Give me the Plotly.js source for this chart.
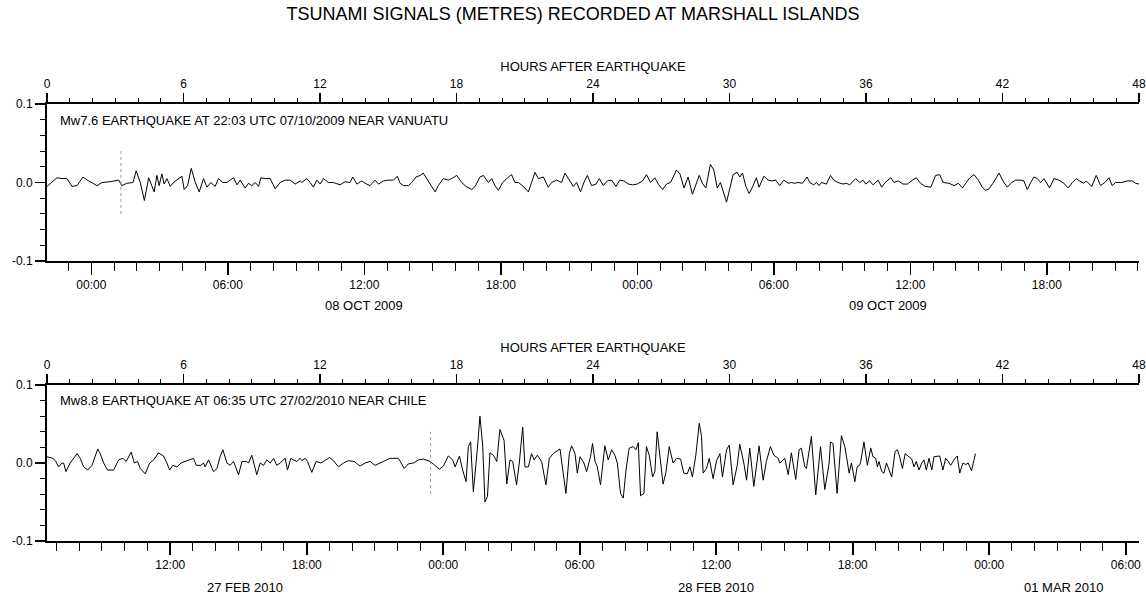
<!DOCTYPE html>
<html>
<head>
<meta charset="utf-8">
<script src="https://cdn.plot.ly/plotly-3.0.1.min.js"></script>
<style>
html,body{margin:0;padding:0;background:#fff;}
#chart{width:1146px;height:597px;}
</style>
</head>
<body>
<div id="chart"></div>
<script>
// ---- Data (hours after earthquake, sea level in metres) ----
const chartTitle = 'TSUNAMI SIGNALS (METRES) RECORDED AT MARSHALL ISLANDS';
const hoursAxisTitle = 'HOURS AFTER EARTHQUAKE';

// Event 1: Vanuatu
const vanuatuLabel = 'Mw7.6 EARTHQUAKE AT 22:03 UTC 07/10/2009 NEAR VANUATU';
const vanuatuStart = '2009-10-07 22:03';
const vanuatuEnd = '2009-10-09 22:03';
const vanuatuFirstTick = '2009-10-08 00:00';
const vanuatuHours = [
  0,0.44,0.66,0.88,1.10,1.32,1.58,1.83,2.20,2.42,2.78,3.15,3.29,3.51,3.78,3.92,4.10,4.28,4.47,4.71,
  4.83,4.93,5.05,5.15,5.27,5.42,5.56,5.71,5.93,6.03,6.18,6.34,6.52,6.69,6.88,7.03,7.20,7.39,7.54,7.73,
  7.91,8.05,8.20,8.35,8.49,8.71,8.86,9.00,9.15,9.30,9.40,9.59,9.81,10.03,10.25,10.47,10.69,10.91,11.13,
  11.20,11.42,11.57,11.71,11.86,12.01,12.15,12.37,12.59,12.88,13.10,13.32,13.44,13.62,13.84,13.98,14.20,14.42,14.57,14.79,
  15.01,15.23,15.40,15.52,15.67,15.89,16.03,16.22,16.40,16.54,16.69,16.84,17.06,17.20,17.42,17.64,17.79,18.01,18.23,18.42,
  18.67,18.82,19.03,19.18,19.40,19.55,19.69,19.84,20.03,20.21,20.42,20.57,20.72,20.94,21.16,21.30,21.45,21.60,21.82,22.03,
  22.18,22.40,22.62,22.77,22.91,23.13,23.28,
  23.45,23.60,23.75,23.94,24.13,24.28,24.45,24.63,24.82,25.01,25.18,25.36,25.55,25.74,25.94,26.18,26.35,26.53,26.72,26.87,
  27.06,27.23,27.41,27.67,27.82,28.00,28.18,28.37,28.55,28.67,28.81,28.96,29.16,29.31,29.46,29.60,29.87,30.01,30.16,30.34,
  30.45,30.57,30.72,30.86,31.01,31.18,31.30,31.51,31.70,31.84,32.03,32.21,32.39,32.58,32.72,32.87,33.01,33.21,33.41,33.53,
  33.70,33.82,33.94,34.04,34.26,34.44,34.58,34.77,34.99,35.14,35.28,35.55,35.72,
  35.87,35.99,36.16,36.31,36.53,36.69,36.84,37.09,37.23,37.42,37.63,37.82,38.04,38.21,38.40,38.60,38.85,39.06,39.24,39.39,
  39.65,39.87,40.06,40.24,40.41,40.56,40.75,40.94,41.11,41.26,41.41,41.58,41.85,42.02,42.21,42.40,42.58,42.80,42.94,43.09,
  43.24,43.38,43.53,43.68,43.82,44.07,44.26,44.48,44.70,44.89,45.07,45.24,45.39,45.58,45.68,45.92,46.12,46.31,46.50,46.68,
  46.82,46.97,47.23,47.48,47.70,47.85,48.00
];
const vanuatuLevel = [
  -0.005,0.006,0.005,0.005,-0.005,-0.004,0.007,0.002,-0.004,0,0.001,0.003,-0.004,-0.001,0,0.015,0,-0.023,0.006,-0.012,
  0.009,-0.004,0.011,-0.002,0.005,-0.005,0,0.003,0.008,-0.009,-0.004,0.018,0,-0.012,0.005,-0.006,0,-0.005,0.005,0,
  0,0.003,0.006,-0.003,0.003,-0.007,-0.001,-0.004,0,-0.005,0.006,0.005,0.005,-0.008,0,0.003,0.003,-0.002,0.002,
  0,0.005,0,-0.006,0.003,-0.002,0.005,0,0,-0.003,0.001,0,0.007,-0.002,0.002,-0.001,-0.004,0.003,-0.002,0.002,
  0.003,0.003,0.008,-0.001,-0.004,-0.004,0,0.007,0.009,0.012,0.005,-0.002,-0.012,-0.004,0.005,0.003,0.005,0.009,0,-0.005,
  -0.009,-0.005,0.007,0.009,0,0.005,-0.004,-0.010,0,0.005,0.010,0,0,-0.005,-0.012,0,0.013,0.005,0.007,-0.006,
  0,0.003,0,0.012,0.005,-0.005,0,
  -0.012,0,0.009,-0.004,-0.002,0.005,-0.004,0.002,0.003,-0.005,0.003,0.002,-0.002,-0.003,-0.002,0.002,0.010,0,0.006,-0.002,
  -0.009,-0.002,0,0.016,0.011,-0.007,0.007,-0.015,-0.002,0.009,-0.001,-0.007,0.023,0.016,-0.007,0,-0.025,-0.008,0.010,0.013,
  0.007,0.012,-0.005,-0.014,-0.006,0.006,-0.006,0.008,0.003,0.002,0.003,-0.004,0.003,-0.001,0,-0.001,0,-0.001,0.007,0,
  -0.003,0,-0.004,0,-0.002,0.009,0.003,0,-0.002,-0.001,-0.003,0.005,0,
  0.003,-0.002,0.002,-0.003,0.003,-0.006,0,0.006,0,0.002,-0.002,-0.002,0.003,0.006,-0.001,-0.005,-0.006,0.009,0.010,0,
  -0.001,-0.004,-0.001,-0.007,0,0.006,0.010,0.003,-0.006,-0.010,-0.008,-0.001,0.012,0.002,-0.006,0,0.003,0.003,0.002,-0.009,
  0,0.007,0.005,0,0.005,-0.007,0.005,0.003,-0.001,-0.007,0,0.005,0.002,-0.001,0.002,-0.005,0.009,-0.004,0,0.006,
  -0.004,0,0,0.002,0.002,-0.001,-0.002
];
const vanuatuArrivalHour = 3.25;
const vanuatuDateLabels = ['08 OCT 2009', '09 OCT 2009'];
const vanuatuDatePos = ['2009-10-08 12:00', '2009-10-09 11:01'];

// Event 2: Chile
const chileLabel = 'Mw8.8 EARTHQUAKE AT 06:35 UTC 27/02/2010 NEAR CHILE';
const chileStart = '2010-02-27 06:35';
const chileEnd = '2010-03-01 06:35';
const chileFirstTick = '2010-02-28 00:00';
const chileHours = [
  0.00,0.15,0.26,0.37,0.51,0.66,0.73,0.83,1.02,1.32,1.46,1.61,1.79,1.98,2.23,2.34,2.49,2.66,2.93,3.15,
  3.34,3.48,3.70,3.84,3.98,4.10,4.32,4.51,4.69,4.90,5.12,5.27,5.39,5.53,5.71,5.89,6.15,6.44,6.56,6.76,
  6.88,6.95,7.10,7.32,7.47,7.61,7.73,7.91,8.05,8.20,8.42,8.57,8.76,8.86,9.00,9.22,9.37,9.52,9.66,9.81,
  9.96,10.10,10.25,10.47,10.57,10.72,10.83,10.98,11.13,
  11.20,11.35,11.45,11.64,11.83,12.04,12.23,12.42,12.59,12.81,13.03,13.25,13.50,13.76,13.98,14.20,14.42,14.64,14.86,15.08,
  15.45,15.70,15.89,16.11,16.33,16.54,16.84,17.06,17.25,17.42,17.64,17.83,17.94,18.13,18.27,18.42,18.52,18.62,18.74,18.92,
  19.03,19.15,19.25,19.36,19.47,19.62,19.77,19.91,20.09,20.21,20.35,20.47,20.64,20.76,20.91,21.01,21.16,21.30,21.41,21.55,
  21.74,21.93,22.08,22.25,22.55,22.69,22.81,22.96,23.06,23.21,23.31,23.43,
  23.60,23.72,23.89,23.98,24.09,24.19,24.33,24.52,24.67,24.82,24.96,25.07,25.21,25.33,25.45,25.59,25.77,25.89,25.99,26.09,
  26.24,26.35,26.47,26.62,26.72,26.82,26.97,27.08,27.20,27.35,27.52,27.67,27.85,27.99,28.14,28.26,28.37,28.52,28.67,28.77,
  28.84,28.99,29.11,29.28,29.43,29.58,29.69,29.87,29.99,30.16,30.34,30.45,30.63,30.75,30.89,31.07,31.30,31.48,31.62,31.80,
  31.95,32.14,32.21,32.43,32.58,32.72,32.91,33.06,33.16,33.31,33.38,33.60,33.79,34.00,34.19,34.38,34.44,34.55,34.73,34.92,
  35.07,35.26,35.36,35.51,35.61,35.72,
  35.77,35.91,36.06,36.21,36.31,36.43,36.50,36.57,36.69,36.79,36.90,37.01,37.13,37.28,37.38,37.48,37.60,37.72,37.86,38.01,
  38.11,38.21,38.33,38.45,38.55,38.65,38.77,38.89,38.99,39.14,39.24,39.38,39.50,39.62,39.72,39.91,40.01,40.12,40.26,40.38,
  40.49,40.64,40.81
];
const chileLevel = [
  0.008,0.007,0.006,0.003,-0.005,0,0,-0.011,0,0.012,0.006,-0.005,-0.009,-0.003,0.018,0.012,0,-0.009,-0.009,0.004,
  0.006,0.002,0.014,0,0.002,-0.007,-0.014,0,0.004,0.013,0.009,0,-0.009,-0.003,-0.005,0,0.003,0.006,-0.003,-0.003,
  0,-0.005,0.004,-0.011,-0.007,0.008,0.017,0,-0.003,0.002,-0.015,0.002,0.002,0,0.010,-0.015,0,-0.003,0.004,0,
  0.006,-0.003,0,0.006,-0.009,0.006,0.004,0.002,0.006,
  0.003,0.006,0.002,-0.012,0.002,0,0.004,0.007,0.003,-0.005,0,0.003,0.002,-0.004,0,0.002,-0.003,0,0.003,0.006,
  0.006,-0.007,-0.001,0,0.004,0.005,0.002,-0.003,-0.008,-0.004,0.009,0.004,-0.005,0.009,-0.009,-0.024,0.021,0.027,-0.037,0.019,
  0.060,0.023,-0.050,-0.043,0.013,0.010,0.002,0.043,0.029,-0.027,0.004,0.002,-0.028,0,0.046,-0.005,-0.005,0.012,0.004,0.010,
  0.002,-0.028,0.006,0.012,0.018,-0.013,-0.039,0.012,0.022,0.012,-0.013,0.008,
  0,-0.011,0.008,0.025,0.002,-0.005,-0.028,0.022,0.004,0.017,0.010,0,-0.039,-0.045,-0.009,0.019,0.021,0.017,0.026,-0.042,
  -0.039,0.021,0.010,-0.018,-0.011,0.040,0,-0.027,-0.013,0.021,0,0.006,0.005,-0.013,-0.014,-0.005,-0.018,0.010,0.051,0.034,
  -0.013,-0.007,0.006,-0.020,0.003,0.012,-0.018,0.017,0.023,-0.028,-0.003,0.024,0,-0.022,0.019,-0.030,0.022,-0.022,0.002,0.021,
  0.010,0.006,0,0.006,-0.015,0.013,-0.021,0.017,0.019,-0.005,-0.007,0.034,-0.041,0.021,-0.034,0,0.027,0.025,-0.039,0.035,
  0.021,-0.013,0,-0.024,-0.005,-0.003,
  0.002,0.027,-0.003,0.019,0.008,0.006,-0.005,0.002,-0.011,-0.013,0,-0.009,-0.018,0.015,0.017,0.008,-0.007,0.012,0.008,0.005,
  -0.005,0.002,-0.009,0,0.004,-0.009,0.006,-0.009,0.008,0.009,0.009,-0.009,0.006,0.002,-0.003,0.006,0.009,-0.013,0,-0.002,
  0,-0.010,0.012
];
const chileArrivalHour = 16.86;
const chileDateLabels = ['27 FEB 2010', '28 FEB 2010', '01 MAR 2010'];
const chileDatePos = ['2010-02-27 15:17', '2010-02-28 12:00', '2010-03-01 03:17'];

// Axis settings
const hoursRange = [0, 48];
const levelRange = [-0.1, 0.1];
const levelTickVals = [-0.1, 0, 0.1];
const levelTickText = ['-0.1', '0.0', '0.1'];
const arrivalSpan = [-0.04, 0.04];

// ---- Layout geometry ----
const W = 1146, H = 597;
const M = {l: 47, r: 7, t: 104, b: 56};
const plotH = H - M.t - M.b;          // 437
const topDomain = [(541 - 261) / plotH, 1];
const botDomain = [0, (541 - 385) / plotH];
const HOUR = 3600000;
const FONT = 'Liberation Sans, Arial, Helvetica, sans-serif';
const TICKSIZE = 12, TEXTSIZE = 13;

function timeAxis(range, firstTick, anchor) {
  return {
    type: 'date', range: range, anchor: anchor, domain: [0, 1],
    tickmode: 'linear', tick0: firstTick, dtick: 6 * HOUR, tickformat: '%H:%M',
    ticks: 'outside', ticklen: 12, tickwidth: 1.6, tickcolor: '#000',
    showline: true, linewidth: 2, linecolor: '#000',
    showgrid: false, zeroline: false,
    tickfont: {size: TICKSIZE, color: '#000'},
    minor: {tickmode: 'linear', tick0: firstTick, dtick: HOUR, ticks: 'outside', ticklen: 8, tickwidth: 1, tickcolor: '#000', showgrid: false}
  };
}
function hoursAxis(overlay, anchor) {
  return {
    range: hoursRange, overlaying: overlay, side: 'top', anchor: anchor,
    tickmode: 'linear', tick0: 0, dtick: 6,
    ticks: 'outside', ticklen: 9, tickwidth: 1.6, tickcolor: '#000',
    showline: true, linewidth: 2, linecolor: '#000',
    showgrid: false, zeroline: false,
    tickfont: {size: TICKSIZE, color: '#000'},
    title: {text: hoursAxisTitle, font: {size: TEXTSIZE, color: '#000'}, standoff: 3},
    minor: {tickmode: 'linear', tick0: 0, dtick: 1, ticks: 'outside', ticklen: 4, tickwidth: 1, tickcolor: '#000', showgrid: false}
  };
}
function levelAxis(domain, anchor) {
  return {
    domain: domain, range: levelRange, anchor: anchor,
    tickmode: 'array', tickvals: levelTickVals, ticktext: levelTickText,
    ticks: 'outside', ticklen: 10, tickwidth: 1.6, tickcolor: '#000',
    showline: true, linewidth: 2, linecolor: '#000',
    showgrid: false, zeroline: false,
    tickfont: {size: TICKSIZE, color: '#000'},
    minor: {tickmode: 'linear', tick0: 0, dtick: 0.02, ticks: 'outside', ticklen: 5, tickwidth: 1, tickcolor: '#000', showgrid: false}
  };
}
function rightAxis(overlay, anchor) {
  return {
    range: levelRange, overlaying: overlay, side: 'right', anchor: anchor,
    tickmode: 'linear', tick0: 0, dtick: 0.02,
    ticks: 'outside', ticklen: 5, tickwidth: 1, tickcolor: '#000',
    showticklabels: false, showline: true, linewidth: 2, linecolor: '#000',
    showgrid: false, zeroline: false
  };
}

const traces = [
  {x: vanuatuHours, y: vanuatuLevel, xaxis: 'x2', yaxis: 'y', type: 'scatter', mode: 'lines',
   line: {color: '#000', width: 1}, hoverinfo: 'skip', showlegend: false},
  {x: [vanuatuArrivalHour, vanuatuArrivalHour], y: arrivalSpan, xaxis: 'x2', yaxis: 'y', type: 'scatter', mode: 'lines',
   line: {color: '#999', width: 1, dash: 'dot'}, hoverinfo: 'skip', showlegend: false},
  {x: chileHours, y: chileLevel, xaxis: 'x4', yaxis: 'y2', type: 'scatter', mode: 'lines',
   line: {color: '#000', width: 1}, hoverinfo: 'skip', showlegend: false},
  {x: [chileArrivalHour, chileArrivalHour], y: arrivalSpan, xaxis: 'x4', yaxis: 'y2', type: 'scatter', mode: 'lines',
   line: {color: '#999', width: 1, dash: 'dot'}, hoverinfo: 'skip', showlegend: false}
];

const annotations = [];
annotations.push({text: vanuatuLabel, xref: 'paper', yref: 'paper', x: (58 - M.l) / (W - M.l - M.r), y: (541 - 120) / plotH,
  xanchor: 'left', yanchor: 'middle', showarrow: false, font: {size: TEXTSIZE, color: '#000'}});
annotations.push({text: chileLabel, xref: 'paper', yref: 'paper', x: (58 - M.l) / (W - M.l - M.r), y: (541 - 401) / plotH,
  xanchor: 'left', yanchor: 'middle', showarrow: false, font: {size: TEXTSIZE, color: '#000'}});
vanuatuDateLabels.forEach((t, i) => annotations.push({text: t, xref: 'x', yref: 'paper', x: vanuatuDatePos[i],
  y: (541 - 305) / plotH, xanchor: 'center', yanchor: 'middle', showarrow: false, font: {size: TEXTSIZE, color: '#000'}}));
chileDateLabels.forEach((t, i) => annotations.push({text: t, xref: 'x3', yref: 'paper', x: chileDatePos[i],
  y: (541 - 587) / plotH, xanchor: 'center', yanchor: 'middle', showarrow: false, font: {size: TEXTSIZE, color: '#000'}}));

const layout = {
  width: W, height: H, margin: M,
  paper_bgcolor: '#fff', plot_bgcolor: '#fff',
  font: {family: FONT, size: TICKSIZE, color: '#000'},
  showlegend: false,
  title: {text: chartTitle, font: {size: 18, color: '#000', family: FONT},
          xref: 'container', x: 0.5, xanchor: 'center', yref: 'container', y: 1 - 14 / H, yanchor: 'middle'},
  xaxis: timeAxis([vanuatuStart, vanuatuEnd], vanuatuFirstTick, 'y'),
  xaxis2: hoursAxis('x', 'y'),
  xaxis3: timeAxis([chileStart, chileEnd], chileFirstTick, 'y2'),
  xaxis4: hoursAxis('x3', 'y2'),
  yaxis: levelAxis(topDomain, 'x'),
  yaxis2: levelAxis(botDomain, 'x3'),
  yaxis3: rightAxis('y', 'x'),
  yaxis4: rightAxis('y2', 'x3'),
  annotations: annotations
};

Plotly.newPlot('chart', traces, layout, {displayModeBar: false, staticPlot: true});
</script>
</body>
</html>
